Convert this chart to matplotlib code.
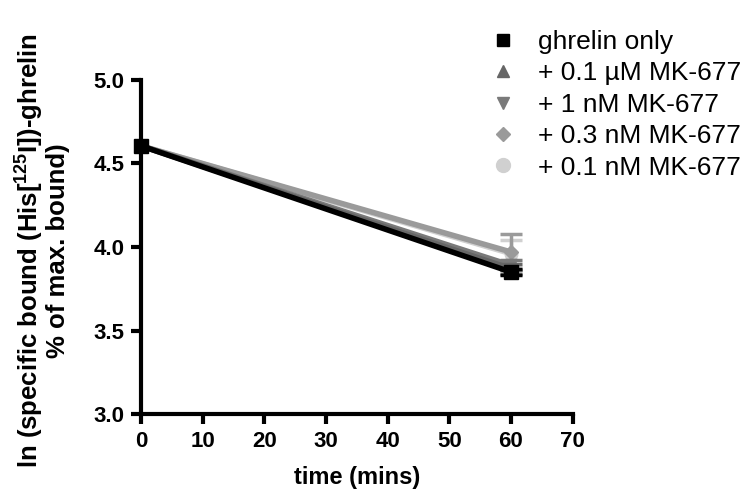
import matplotlib
matplotlib.use('Agg')
import matplotlib.pyplot as plt
import numpy as np

plt.rcParams['font.family'] = ['Liberation Sans', 'DejaVu Sans']
plt.rcParams['mathtext.fontset'] = 'custom'
plt.rcParams['mathtext.rm'] = 'Liberation Sans'
plt.rcParams['mathtext.bf'] = 'Liberation Sans:bold'

time = [0, 60]
labels = ['ghrelin only', '+ 0.1 µM MK-677', '+ 1 nM MK-677',
          '+ 0.3 nM MK-677', '+ 0.1 nM MK-677']
values = [[4.605, 3.85],
          [4.605, 3.87],
          [4.605, 3.89],
          [4.605, 3.97],
          [4.605, 3.96]]
# SEM at 60 min only
errors = [0.02, 0.03, 0.03, 0.11, 0.08]
colors = ['#000000', '#666666', '#7a7a7a', '#9a9a9a', '#d0d0d0']
markers = ['s', '^', 'v', 'D', 'o']
msizes = [10, 9, 9, 7, 9]

fig = plt.figure(figsize=(7.48, 4.90), dpi=100)
ax = fig.add_axes([0.1885, 0.155, 0.577, 0.682])

handles = []
for i in [4, 3, 2, 1, 0]:
    z = 3 + (4 - i)
    ax.errorbar(time[1], values[i][1], yerr=errors[i], color=colors[i], fmt='none',
                capsize=8, capthick=2.5, elinewidth=2.5, zorder=z)
    ax.plot(time, values[i], color=colors[i], marker=markers[i], ms=msizes[i],
            lw=4, zorder=z, clip_on=False)
for i in range(5):
    h, = ax.plot([], [], color=colors[i], marker=markers[i], ls='none',
                 ms=[9, 9, 9, 7, 10][i])
    handles.append(h)

ax.set_xlim(0, 70)
ax.set_ylim(3.0, 5.0)
ax.set_xticks(np.arange(0, 71, 10))
ax.set_yticks([3.0, 3.5, 4.0, 4.5, 5.0])
ax.set_yticklabels(['3.0', '3.5', '4.0', '4.5', '5.0'])
for s in ['top', 'right']:
    ax.spines[s].set_visible(False)
for s in ['left', 'bottom']:
    ax.spines[s].set_linewidth(3)
ax.tick_params(width=3, length=7, labelsize=16, pad=5)
for t in ax.get_xticklabels() + ax.get_yticklabels():
    t.set_fontweight('bold')

ax.set_xlabel('time (mins)', fontsize=17, fontweight='bold')
ax.xaxis.set_label_coords(0.5, -0.155)
ax.set_ylabel('ln (specific bound (His[$\\mathbf{^{125}}$I])-ghrelin\n% of max. bound)',
              fontsize=18.5, fontweight='bold', linespacing=1.0)
ax.yaxis.set_label_coords(-0.165, 0.49)

fig.legend(handles, labels, loc='upper left', bbox_to_anchor=(490 / 748, 1 - 30 / 490),
           frameon=False, fontsize=19, handlelength=1.0, handletextpad=0.8,
           labelspacing=0.28, borderpad=0, borderaxespad=0)

fig.savefig('out.png', dpi=100)
